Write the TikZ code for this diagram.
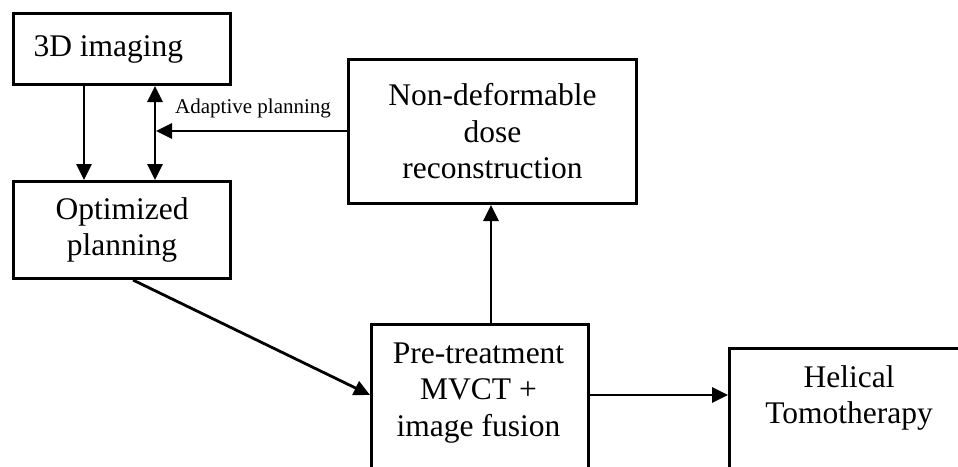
\documentclass[tikz,border=0pt]{standalone}
\usepackage{fontspec}
\setmainfont{Liberation Serif}
\usetikzlibrary{arrows.meta,calc}
\begin{document}
\begin{tikzpicture}[x=1pt,y=-1pt,
  box/.style={draw,line width=3pt,rectangle,inner sep=0pt,anchor=north west,
    font=\fontsize{31.5}{36.5}\selectfont,align=flush center},
  txt/.style={inner sep=0pt,font=\fontsize{31.5}{36.5}\selectfont,align=flush center,anchor=base},
  arr/.style={line width=2.8pt,-{Triangle[length=16pt,width=15pt]}},
  darr/.style={line width=2.8pt,{Triangle[length=16pt,width=15pt]}-{Triangle[length=16pt,width=15pt]}}]
\useasboundingbox (0,0) rectangle (958,466);
\clip (0,0) rectangle (958,466);
% boxes
\node[box,minimum width=217pt,minimum height=71pt,text width=177pt,inner xsep=20pt,align=flush left] (img) at (12,12) {3D imaging};
\node[box,minimum width=217pt,minimum height=97pt] (opt) at (12,180) {Optimized\\planning};
\node[box,minimum width=288pt,minimum height=144pt] (nd) at (347,58) {Non-deformable\\dose\\reconstruction};
\node[box,minimum width=217pt,minimum height=190pt] (pre) at (370,323) {};
\node[box,minimum width=242pt,minimum height=170pt] (hel) at (728,347) {};
% texts of the cut-off boxes
\node[txt,text width=217pt] (pretext) at (478.5,363) {Pre-treatment\\MVCT +\\image fusion};
\node[txt,text width=242pt] (heltext) at (849,387) {Helical\\Tomotherapy};
% connectors
\coordinate (adj) at (156,131);
\draw[arr] ($(img.south west)+(72,0)$) -- ($(opt.north west)+(72,0)$);
\draw[darr] ($(img.south west)+(143,0)$) -- ($(opt.north west)+(143,0)$);
\draw[arr] (nd.west |- adj) -- (adj);
\node[inner sep=0pt,anchor=base west,font=\fontsize{21}{24}\selectfont] (lbl) at (175,113) {Adaptive planning};
\draw[arr] ($(opt.south west)+(121,0)$) -- ($(pre.north west)+(0,72)$);
\draw[arr] ($(pre.north west)+(121,0)$) -- ($(nd.south west)+(144,0)$);
\draw[arr] ($(pre.north east)+(0,72)$) -- ($(hel.north west)+(0,48)$);
\end{tikzpicture}
\end{document}
